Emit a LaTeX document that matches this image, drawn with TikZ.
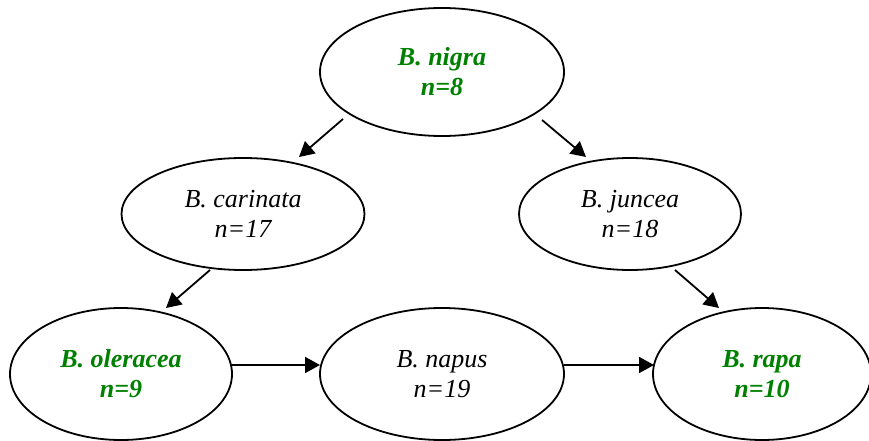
\documentclass[tikz,border=0pt]{standalone}
\usepackage{fontspec}
\setmainfont{Liberation Serif}
\usetikzlibrary{arrows.meta,shapes.geometric}
\definecolor{sgreen}{RGB}{0,128,0}
\begin{document}
\begin{tikzpicture}[x=1pt,y=-1pt,
  sp/.style={ellipse,draw,line width=1.8pt,inner sep=0pt,align=center,
    font=\fontsize{26}{30}\selectfont\itshape},
  par/.style={sp,text=sgreen,font=\fontsize{26}{30}\selectfont\bfseries\itshape},
  arr/.style={line width=1.8pt,-{Triangle[length=15pt,width=16pt]}}]
\useasboundingbox (0,0) rectangle (869,441);
\node[par,minimum width=244pt,minimum height=128pt] (nigra) at (442,72) {B. nigra\\n=8};
\node[sp,minimum width=243pt,minimum height=112pt] (carinata) at (243,214) {B. carinata\\n=17};
\node[sp,minimum width=222pt,minimum height=112pt] (juncea) at (630,214) {B. juncea\\n=18};
\node[par,minimum width=222pt,minimum height=132pt] (oleracea) at (121,374) {B. oleracea\\n=9};
\node[sp,minimum width=244pt,minimum height=132pt] (napus) at (442,374) {B. napus\\n=19};
\node[par,minimum width=218pt,minimum height=132pt] (rapa) at (762,374) {B. rapa\\n=10};
\draw[arr] ([shift={(-99,47)}]nigra.center) -- ([shift={(56,-57)}]carinata.center);
\draw[arr] ([shift={(100,48)}]nigra.center) -- ([shift={(-44,-57)}]juncea.center);
\draw[arr] ([shift={(-33,56)}]carinata.center) -- ([shift={(45,-66)}]oleracea.center);
\draw[arr] ([shift={(45,56)}]juncea.center) -- ([shift={(-43,-66)}]rapa.center);
\draw[arr] ([shift={(111,-9)}]oleracea.center) -- ([shift={(-122,-9)}]napus.center);
\draw[arr] ([shift={(122,-9)}]napus.center) -- ([shift={(-108,-9)}]rapa.center);
\end{tikzpicture}
\end{document}
